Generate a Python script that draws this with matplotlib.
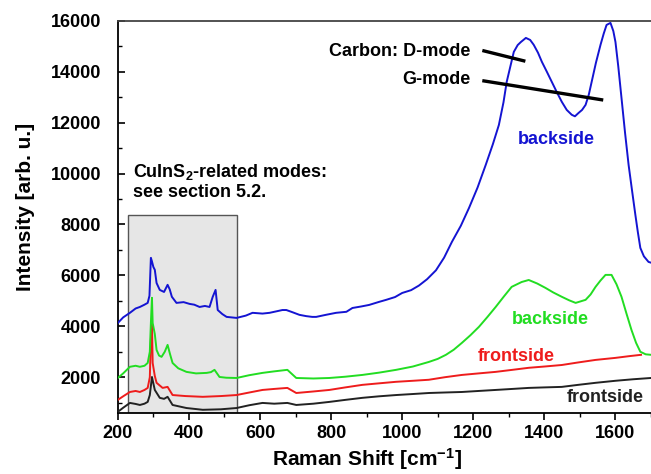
import matplotlib
matplotlib.use('Agg')
import matplotlib.pyplot as plt
from matplotlib.patches import Rectangle
from matplotlib.ticker import MultipleLocator

plt.rcParams['font.family'] = ['Liberation Sans', 'DejaVu Sans']
plt.rcParams['font.weight'] = 'bold'
plt.rcParams['mathtext.fontset'] = 'custom'
plt.rcParams['mathtext.rm'] = 'Liberation Sans:bold'
plt.rcParams['mathtext.bf'] = 'Liberation Sans:bold'
plt.rcParams['mathtext.default'] = 'bf'

# Raman spectra [cm^-1, arb. u.]
blue_x = [200, 215, 234, 250, 262, 275, 284, 289, 293, 296, 300, 304, 309, 318, 330, 340, 346, 352, 365,
          385, 402, 415, 430, 445, 458, 467, 475, 481, 494, 506, 534, 560, 579, 607, 627, 650, 663, 674,
          690, 711, 730, 747, 758, 785, 814, 843, 860, 885, 907, 935, 955, 980, 1000, 1025, 1047, 1070,
          1095, 1118, 1140, 1165, 1188, 1212, 1235, 1255, 1272, 1285, 1294, 1305, 1314, 1325, 1334, 1348,
          1360, 1370, 1382, 1393, 1407, 1421, 1435, 1449, 1463, 1477, 1486, 1496, 1506, 1516, 1525, 1533,
          1545, 1558, 1567, 1575, 1586, 1594, 1600, 1608, 1617, 1627, 1637, 1647, 1656, 1663, 1670, 1680,
          1693, 1700]
blue_y = [4130, 4350, 4530, 4700, 4760, 4850, 4920, 5200, 6690, 6550, 6330, 6220, 5700, 5430, 5350, 5630,
          5450, 5160, 4920, 4950, 4880, 4850, 4760, 4800, 4760, 5160, 5430, 4640, 4480, 4370, 4330, 4420,
          4530, 4500, 4530, 4600, 4640, 4640, 4560, 4450, 4400, 4370, 4370, 4450, 4530, 4570, 4720, 4780,
          4840, 4960, 5040, 5150, 5310, 5420, 5600, 5850, 6200, 6700, 7320, 7950, 8650, 9450, 10340, 11150,
          11910, 12800, 13600, 14250, 14780, 15050, 15170, 15330, 15250, 15060, 14750, 14390, 14000, 13600,
          13200, 12820, 12500, 12310, 12250, 12380, 12500, 12700, 13100, 13600, 14350, 15060, 15500, 15840,
          15920, 15600, 15170, 14200, 12970, 11600, 10340, 9300, 8380, 7700, 7080, 6750, 6530, 6500]

green_x = [200, 215, 234, 250, 262, 275, 284, 290, 293, 296, 298, 304, 309, 316, 323, 332, 340, 347, 354,
           370, 393, 420, 450, 462, 472, 486, 505, 534, 570, 607, 640, 677, 702, 750, 795, 840, 888, 935,
           983, 1030, 1075, 1100, 1123, 1145, 1168, 1192, 1216, 1240, 1263, 1286, 1308, 1336, 1356, 1380,
           1403, 1425, 1449, 1470, 1488, 1516, 1530, 1544, 1558, 1572, 1589, 1603, 1617, 1631, 1645, 1658,
           1670, 1685, 1700]
green_y = [1970, 2150, 2410, 2450, 2410, 2450, 2560, 3000, 4130, 5120, 4130, 3700, 3070, 2850, 2800, 3000,
           3270, 2900, 2560, 2350, 2210, 2150, 2170, 2200, 2290, 2010, 1980, 1970, 2080, 2170, 2230, 2290,
           1970, 1950, 1970, 2020, 2090, 2180, 2290, 2420, 2600, 2720, 2880, 3080, 3350, 3650, 3980, 4370,
           4760, 5170, 5550, 5740, 5820, 5680, 5510, 5330, 5160, 5020, 4920, 5040, 5250, 5550, 5800, 6020,
           6020, 5650, 5160, 4500, 3860, 3350, 3000, 2900, 2880]

red_x = [200, 215, 234, 250, 262, 275, 284, 290, 293, 296, 298, 304, 309, 326, 340, 354, 390, 439, 490,
         534, 570, 607, 640, 677, 702, 750, 795, 840, 888, 935, 983, 1030, 1075, 1120, 1168, 1215, 1263,
         1310, 1356, 1400, 1449, 1495, 1544, 1600, 1640, 1672]
red_y = [1110, 1250, 1420, 1460, 1420, 1500, 1580, 2000, 3500, 4060, 2560, 2050, 1780, 1580, 1620, 1300,
         1260, 1230, 1260, 1300, 1400, 1500, 1540, 1580, 1380, 1440, 1500, 1600, 1700, 1760, 1820, 1860,
         1900, 2000, 2090, 2150, 2210, 2290, 2370, 2420, 2480, 2580, 2680, 2760, 2830, 2880]

black_x = [200, 215, 234, 250, 262, 275, 284, 290, 296, 304, 318, 330, 340, 354, 393, 439, 490, 534, 570,
           607, 640, 677, 702, 750, 795, 840, 888, 935, 983, 1030, 1075, 1120, 1168, 1215, 1263, 1310,
           1356, 1400, 1449, 1495, 1544, 1600, 1650, 1700]
black_y = [640, 800, 990, 950, 910, 960, 1030, 1300, 2010, 1500, 1190, 1150, 1230, 910, 790, 720, 740, 790,
           900, 990, 960, 990, 910, 960, 1030, 1110, 1190, 1250, 1300, 1340, 1380, 1400, 1420, 1460, 1500,
           1540, 1580, 1600, 1620, 1700, 1780, 1860, 1920, 1970]

fig = plt.figure(figsize=(6.51, 4.74), dpi=100)
ax = fig.add_axes([0.181, 0.129, 0.819, 0.827])

# shaded region of the CuInS2 modes
ax.add_patch(Rectangle((228, 600), 534 - 228, 8380 - 600, facecolor='#e6e6e6',
                       edgecolor='#555555', linewidth=1.0, zorder=1))

ax.plot(black_x, black_y, color='#222222', lw=1.4, zorder=3)
ax.plot(red_x, red_y, color='#ee1c1c', lw=1.4, zorder=3)
ax.plot(green_x, green_y, color='#22dd22', lw=1.4, zorder=3)
ax.plot(blue_x, blue_y, color='#1414d2', lw=1.4, zorder=3)

# pointers to the carbon bands
ax.plot([1230, 1342], [14820, 14430], color='black', lw=2.4, zorder=4)
ax.plot([1230, 1561], [13640, 12900], color='black', lw=2.4, zorder=4)
ax.text(1193, 14800, 'Carbon: D-mode', ha='right', va='center', fontsize=13, fontweight='bold')
ax.text(1193, 13680, 'G-mode', ha='right', va='center', fontsize=13, fontweight='bold')

ax.text(242, 10070, 'CuInS$_2$-related modes:', ha='left', va='center', fontsize=13,
        fontweight='bold')
ax.text(242, 9240, 'see section 5.2.', ha='left', va='center', fontsize=13, fontweight='bold')

ax.text(1435, 11320, 'backside', color='#1414d2', ha='center', va='center', fontsize=13, fontweight='bold')
ax.text(1418, 4250, 'backside', color='#22dd22', ha='center', va='center', fontsize=13, fontweight='bold')
ax.text(1322, 2800, 'frontside', color='#ee1c1c', ha='center', va='center', fontsize=13, fontweight='bold')
ax.text(1570, 1190, 'frontside', color='#222222', ha='center', va='center', fontsize=13, fontweight='bold')

ax.set_xlim(200, 1700)
ax.set_ylim(600, 16000)
ax.xaxis.set_major_locator(MultipleLocator(200))
ax.xaxis.set_minor_locator(MultipleLocator(100))
ax.yaxis.set_minor_locator(MultipleLocator(1000))
ax.set_yticks(range(2000, 16001, 2000))

ax.tick_params(axis='x', which='major', direction='out', length=5, width=1.2, pad=4, labelsize=13)
ax.tick_params(axis='x', which='minor', direction='out', length=3, width=1.0)
ax.tick_params(axis='y', which='major', direction='in', length=5, width=1.2, pad=12, labelsize=13)
ax.tick_params(axis='y', which='minor', direction='in', length=3, width=1.0)
for lab in ax.get_xticklabels() + ax.get_yticklabels():
    lab.set_fontweight('bold')

ax.spines['right'].set_visible(False)
for s in ['left', 'bottom', 'top']:
    ax.spines[s].set_linewidth(1.3)
ax.spines['top'].set_color('#444444')

ax.set_xlabel('Raman Shift [cm$^{-1}$]', fontsize=15, fontweight='bold')
ax.xaxis.set_label_coords(0.467, -0.085)
ax.set_ylabel('Intensity [arb. u.]', fontsize=15, fontweight='bold')
ax.yaxis.set_label_coords(-0.155, 0.525)

fig.savefig('out.png', dpi=100)
